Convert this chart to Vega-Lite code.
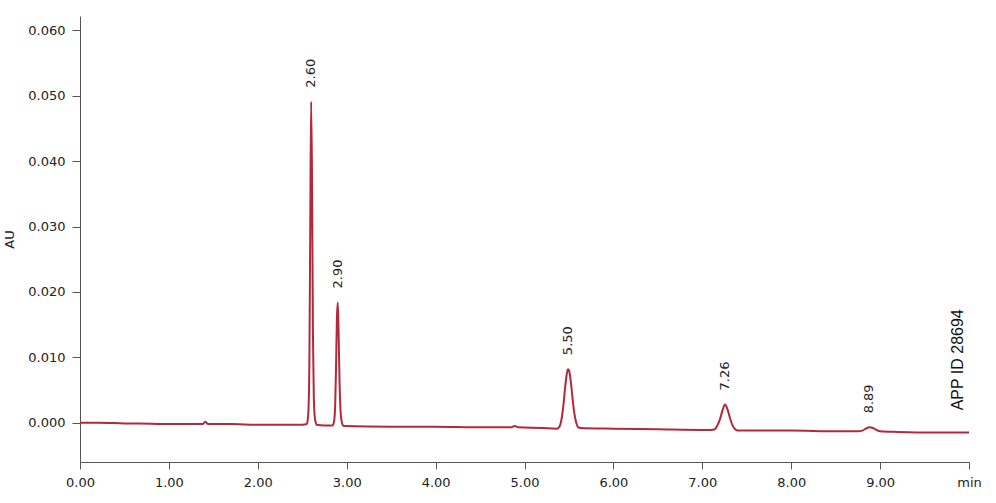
{
  "$schema": "https://vega.github.io/schema/vega-lite/v6.json",
  "description": "Chromatogram, AU against retention time in minutes.",
  "width": 889,
  "height": 446,
  "autosize": {"type": "none"},
  "padding": {"left": 80, "top": 16, "right": 27, "bottom": 41},
  "background": "white",
  "datasets": {
    "trace": [
      {"t": 0.00, "au": 0.0000}, {"t": 0.20, "au": 0.0000}, {"t": 0.50, "au": -0.0001},
      {"t": 0.80, "au": -0.00015}, {"t": 1.00, "au": -0.0002}, {"t": 1.38, "au": -0.0002},
      {"t": 1.41, "au": 0.00015}, {"t": 1.44, "au": -0.0002}, {"t": 1.70, "au": -0.0002},
      {"t": 2.00, "au": -0.0003}, {"t": 2.30, "au": -0.0003}, {"t": 2.50, "au": -0.0003},
      {"t": 2.55, "au": -0.0002}, {"t": 2.56, "au": 0.0003}, {"t": 2.57, "au": 0.0020},
      {"t": 2.58, "au": 0.0090}, {"t": 2.59, "au": 0.0300}, {"t": 2.60, "au": 0.0491},
      {"t": 2.61, "au": 0.0370}, {"t": 2.62, "au": 0.0140}, {"t": 2.63, "au": 0.0040},
      {"t": 2.64, "au": 0.0010}, {"t": 2.65, "au": 0.0001}, {"t": 2.66, "au": -0.0003},
      {"t": 2.75, "au": -0.0004}, {"t": 2.84, "au": -0.0004}, {"t": 2.85, "au": -0.0002},
      {"t": 2.86, "au": 0.0004}, {"t": 2.87, "au": 0.0025}, {"t": 2.88, "au": 0.0085},
      {"t": 2.89, "au": 0.0160}, {"t": 2.90, "au": 0.0184}, {"t": 2.91, "au": 0.0130},
      {"t": 2.92, "au": 0.0060}, {"t": 2.93, "au": 0.0020}, {"t": 2.94, "au": 0.0005},
      {"t": 2.95, "au": -0.0002}, {"t": 2.97, "au": -0.0005}, {"t": 3.50, "au": -0.0006},
      {"t": 4.00, "au": -0.0006}, {"t": 4.50, "au": -0.0007}, {"t": 4.85, "au": -0.0007},
      {"t": 4.89, "au": -0.0005}, {"t": 4.93, "au": -0.0007}, {"t": 5.20, "au": -0.0008},
      {"t": 5.36, "au": -0.0009}, {"t": 5.38, "au": -0.0008}, {"t": 5.40, "au": -0.0004},
      {"t": 5.42, "au": 0.0008}, {"t": 5.44, "au": 0.0030}, {"t": 5.46, "au": 0.0058},
      {"t": 5.48, "au": 0.0078}, {"t": 5.49, "au": 0.0082}, {"t": 5.50, "au": 0.0080},
      {"t": 5.52, "au": 0.0064}, {"t": 5.54, "au": 0.0038}, {"t": 5.56, "au": 0.0015},
      {"t": 5.58, "au": 0.0001}, {"t": 5.60, "au": -0.0006}, {"t": 5.63, "au": -0.0008},
      {"t": 6.00, "au": -0.0009}, {"t": 6.50, "au": -0.0010}, {"t": 7.00, "au": -0.0011},
      {"t": 7.10, "au": -0.0011}, {"t": 7.14, "au": -0.0010}, {"t": 7.17, "au": -0.0004},
      {"t": 7.20, "au": 0.0006}, {"t": 7.23, "au": 0.0020}, {"t": 7.255, "au": 0.0028},
      {"t": 7.28, "au": 0.0022}, {"t": 7.31, "au": 0.0008}, {"t": 7.34, "au": -0.0004},
      {"t": 7.37, "au": -0.0010}, {"t": 7.40, "au": -0.0012}, {"t": 8.00, "au": -0.0012},
      {"t": 8.50, "au": -0.0013}, {"t": 8.75, "au": -0.0013}, {"t": 8.80, "au": -0.0012},
      {"t": 8.84, "au": -0.0009}, {"t": 8.88, "au": -0.0007}, {"t": 8.92, "au": -0.0008},
      {"t": 8.96, "au": -0.0011}, {"t": 9.00, "au": -0.0013}, {"t": 9.20, "au": -0.0014},
      {"t": 9.60, "au": -0.0015}, {"t": 10.00, "au": -0.0015}
    ],
    "peaks": [
      {"t": 2.60, "au": 0.0491, "label": "2.60"},
      {"t": 2.90, "au": 0.0184, "label": "2.90"},
      {"t": 5.49, "au": 0.0082, "label": "5.50"},
      {"t": 7.255, "au": 0.0028, "label": "7.26"},
      {"t": 8.88, "au": -0.0007, "label": "8.89"}
    ],
    "note": [
      {"t": 9.88, "au": 0.0019, "label": "APP ID 28694"}
    ]
  },
  "encoding": {
    "x": {
      "field": "t", "type": "quantitative",
      "scale": {"domain": [0, 10], "nice": false, "zero": false},
      "axis": {
        "title": null, "grid": false, "values": [0, 1, 2, 3, 4, 5, 6, 7, 8, 9, 10],
        "labelExpr": "datum.value == 10 ? 'min' : format(datum.value, '.2f')",
        "labelFlush": false, "tickSize": 7, "labelPadding": 7
      }
    },
    "y": {
      "field": "au", "type": "quantitative",
      "scale": {"domain": [-0.006, 0.0622], "nice": false, "zero": false},
      "axis": {
        "title": "AU", "grid": false, "values": [0, 0.01, 0.02, 0.03, 0.04, 0.05, 0.06],
        "format": ".3f", "labelFlush": false, "tickSize": 8, "labelPadding": 7, "titlePadding": 11
      }
    }
  },
  "layer": [
    {
      "data": {"name": "trace"},
      "mark": {"type": "line", "color": "#b3283a", "strokeWidth": 2, "interpolate": "monotone"}
    },
    {
      "data": {"name": "peaks"},
      "mark": {"type": "text", "angle": 270, "align": "left", "baseline": "middle", "dx": 14, "fontSize": 13, "font": "DejaVu Sans", "color": "#222"},
      "encoding": {"text": {"field": "label"}}
    },
    {
      "data": {"name": "note"},
      "mark": {"type": "text", "angle": 270, "align": "left", "baseline": "middle", "fontSize": 16, "font": "Liberation Sans", "color": "#111"},
      "encoding": {"text": {"field": "label"}}
    }
  ],
  "config": {
    "view": {"stroke": null},
    "axis": {
      "labelFont": "DejaVu Sans", "labelFontSize": 13, "labelColor": "#222",
      "titleFont": "DejaVu Sans", "titleFontSize": 13, "titleFontWeight": "normal", "titleColor": "#222",
      "domainColor": "#555", "tickColor": "#555"
    }
  }
}
